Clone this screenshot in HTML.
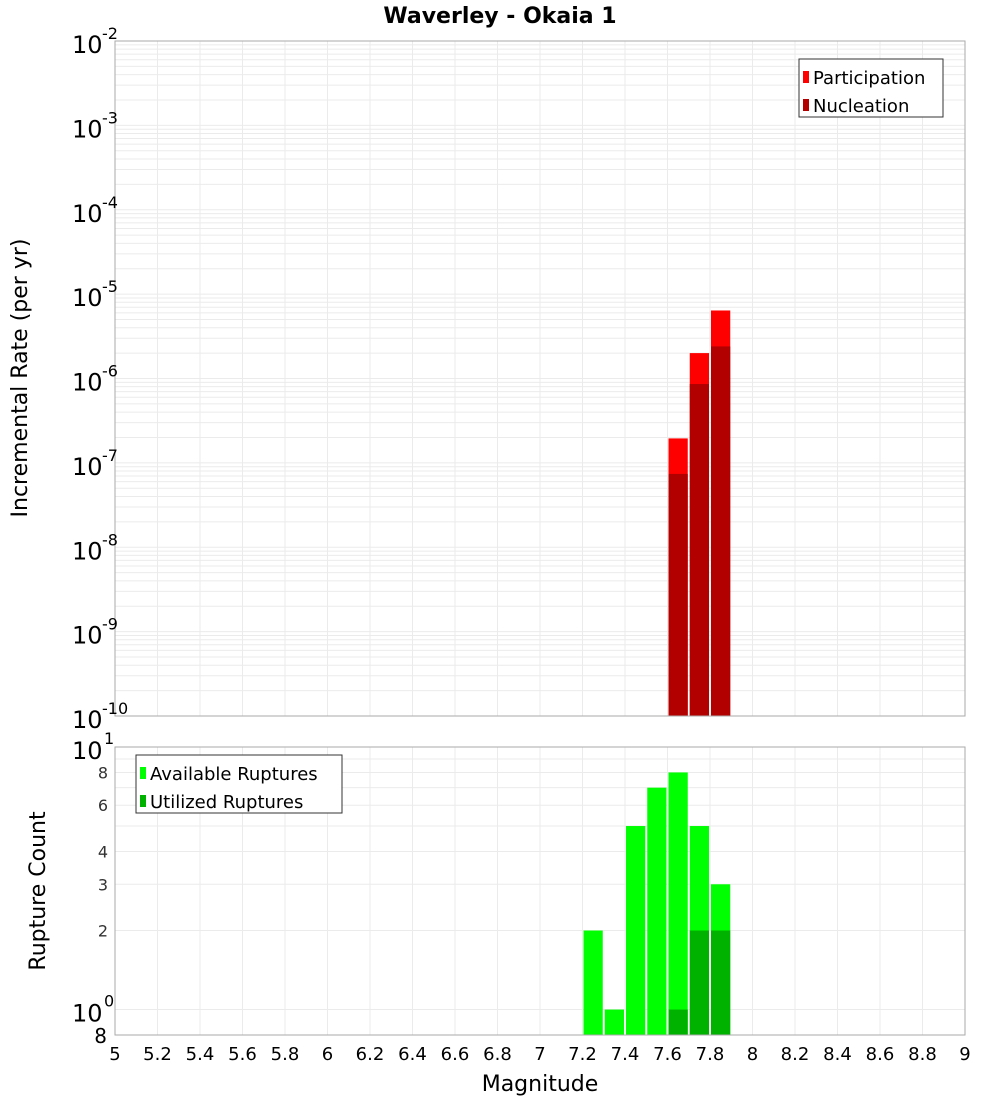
<!DOCTYPE html>
<html><head><meta charset="utf-8"><style>
body{margin:0;background:#fff;font-family:"DejaVu Sans","Liberation Sans",sans-serif;}
svg text{font-family:"DejaVu Sans","Liberation Sans",sans-serif;}
</style></head><body>
<svg id="chart" width="1000" height="1100" xmlns="http://www.w3.org/2000/svg">
<text x="500" y="23" text-anchor="middle" font-size="22" font-weight="bold">Waverley - Okaia 1</text>
<text transform="translate(27,378) rotate(-90)" text-anchor="middle" font-size="22">Incremental Rate (per yr)</text>
<text transform="translate(45,891) rotate(-90)" text-anchor="middle" font-size="22">Rupture Count</text>
<text x="540" y="1091" text-anchor="middle" font-size="22">Magnitude</text>
<g id="g"></g>
</svg>
<script>
const rateBins=[7.6,7.7,7.8];
const participation=[1.95e-7,2.0e-6,6.4e-6];
const nucleation=[7.4e-8,8.6e-7,2.4e-6];
const countBins=[7.2,7.3,7.4,7.5,7.6,7.7,7.8];
const available=[2,1,5,7,8,5,3];
const utilized=[0,0,0,0,1,2,2];
const xTicks=[5,5.2,5.4,5.6,5.8,6,6.2,6.4,6.6,6.8,7,7.2,7.4,7.6,7.8,8,8.2,8.4,8.6,8.8,9];
const topExps=[-2,-3,-4,-5,-6,-7,-8,-9,-10];
const botTicks=[8,6,4,3,2];

const NS="http://www.w3.org/2000/svg";
const g=document.getElementById('g');
function el(t,a,txt){const e=document.createElementNS(NS,t);for(const k in a)e.setAttribute(k,a[k]);if(txt!==undefined)e.textContent=txt;g.appendChild(e);return e;}
const X0=115,X1=965;
const x=m=>X0+(m-5)/4*(X1-X0);
const T0=41,T1=716;
const yTop=v=>T0+(-2-Math.log10(v))/8*(T1-T0);
const B0=747,B1=1035;
const lb0=1,lb1=Math.log10(0.8);
const yBot=v=>B0+(lb0-Math.log10(v))/(lb0-lb1)*(B1-B0);

// top grid
for(let d=-10;d<-2;d++){for(let k=1;k<10;k++){const y=yTop(k*Math.pow(10,d));
const l=el('line',{x1:X0,x2:X1,y1:y,y2:y,stroke:'#ebebeb','stroke-width':1});
}}
// bottom grid
[1,2,3,4,5,6,7,8,9,10].forEach(v=>{const y=yBot(v);
const l=el('line',{x1:X0,x2:X1,y1:y,y2:y,stroke:'#ebebeb','stroke-width':1});
});
xTicks.forEach(t=>{[[T0,T1],[B0,B1]].forEach(r=>{
const l=el('line',{x1:x(t),x2:x(t),y1:r[0],y2:r[1],stroke:'#ebebeb','stroke-width':1});
});});

const bw=(x(5.1)-x(5));
// top bars
rateBins.forEach((m,i)=>{
const r=el('rect',{x:x(m)+1,y:yTop(participation[i]),width:bw-2,height:T1-yTop(participation[i]),fill:'#ff0000'});

const n=el('rect',{x:x(m)+1,y:yTop(nucleation[i]),width:bw-2,height:T1-yTop(nucleation[i]),fill:'#b20000'});
});
// bottom bars
countBins.forEach((m,i)=>{
const r=el('rect',{x:x(m)+1,y:yBot(available[i]),width:bw-2,height:B1-yBot(available[i]),fill:'#00ff00'});

if(utilized[i]>0){const n=el('rect',{x:x(m)+1,y:yBot(utilized[i]),width:bw-2,height:B1-yBot(utilized[i]),fill:'#00b200'});
}});

// frames
[[T0,T1],[B0,B1]].forEach(r=>{const f=el('rect',{x:X0,y:r[0],width:X1-X0,height:r[1]-r[0],fill:'none',stroke:'#aaa','stroke-width':1});
});

// top y labels
topExps.forEach(e=>{const y=yTop(Math.pow(10,e));
const t=el('text',{x:72,y:y+12,'font-size':24},'10');

const s=el('text',{x:102,y:y-2,'font-size':16},String(e));
});
// bottom y labels
[[10,'1'],[1,'0']].forEach(p=>{const y=yBot(p[0]);
const t=el('text',{x:72,y:y+12,'font-size':24},'10');

const s=el('text',{x:104,y:y-3,'font-size':16},p[1]);
});
botTicks.forEach(v=>{const t=el('text',{x:108,y:yBot(v)+6,'font-size':16,'text-anchor':'end',fill:'#333'},String(v));
});
const b8=el('text',{x:107,y:B1+8,'font-size':20,'text-anchor':'end'},'8');

// x labels
xTicks.forEach(t=>{const l=el('text',{x:x(t),y:1060,'font-size':18,'text-anchor':'middle'},String(t));
});

// legends
function legend(x0,y0,w,items,name){
const bx=el('rect',{x:x0,y:y0,width:w,height:58,fill:'#fff',stroke:'#333','stroke-width':1});

items.forEach((it,i)=>{const cy=y0+18+i*28;
const sw=el('rect',{x:x0+4,y:cy-6,width:6,height:12,fill:it[1]});

const tx=el('text',{x:x0+14,y:cy+7,'font-size':18},it[0]);
});}
legend(799,59,144,[['Participation','#ff0000'],['Nucleation','#b20000']],'top-legend');
legend(136,755,206,[['Available Ruptures','#00ff00'],['Utilized Ruptures','#00b200']],'bottom-legend');
</script>
</body></html>
